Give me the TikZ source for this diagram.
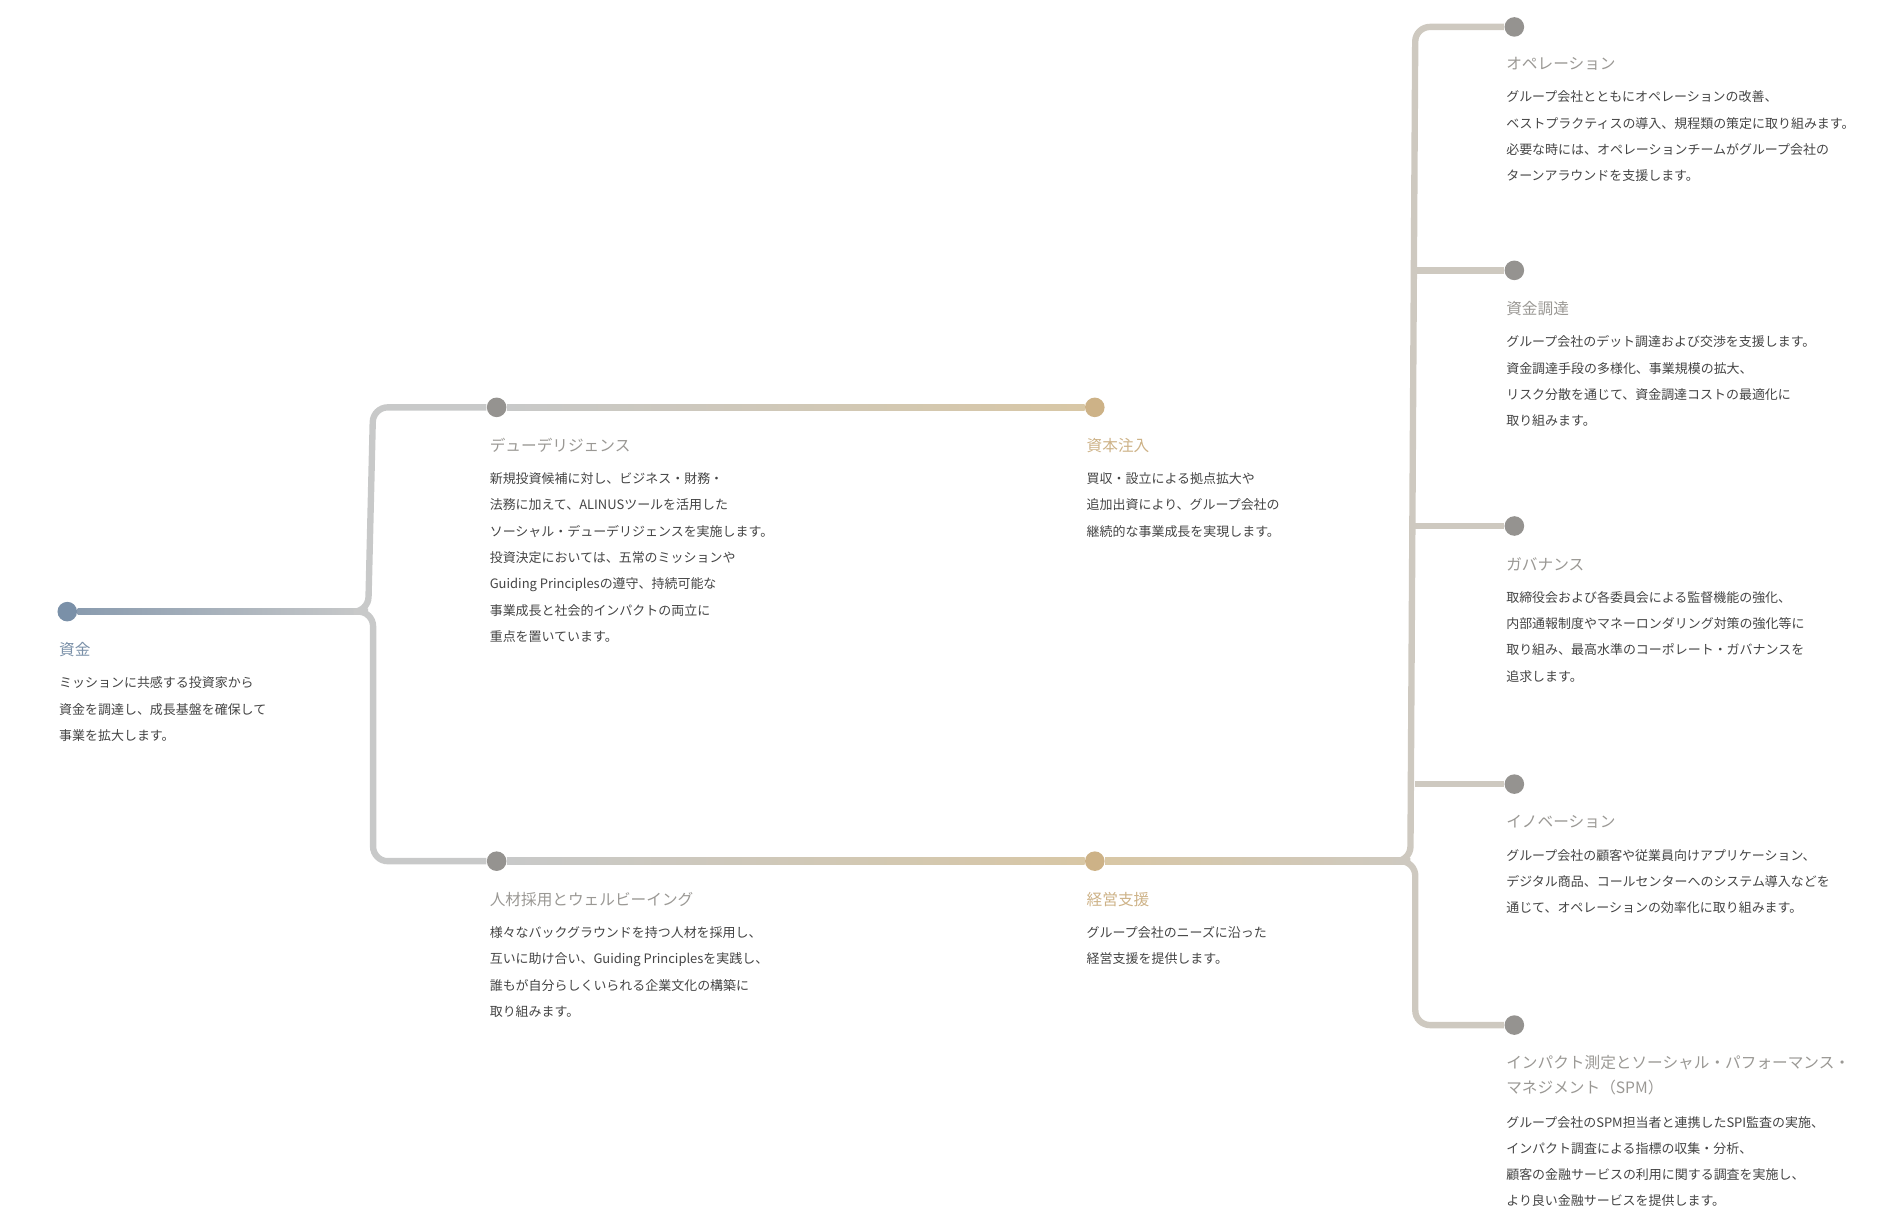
\documentclass[tikz,border=0pt]{standalone}
\usepackage{fontspec}
\usetikzlibrary{calc}
\newfontfamily\jp{Noto Sans CJK JP}
\begin{document}
\begin{tikzpicture}[x=0.5pt,y=-0.5pt]
\definecolor{dgray}{HTML}{959390}
\definecolor{dblue}{HTML}{7A90A8}
\definecolor{dgold}{HTML}{CDB287}
\definecolor{lgray}{HTML}{C8C9C9}
\definecolor{lbeige}{HTML}{CEC9C0}
\definecolor{lgold}{HTML}{D8C7A5}
\definecolor{tgray}{HTML}{9A9894}
\definecolor{tbody}{HTML}{444444}
\tikzset{
 dot/.style={circle,fill=#1,minimum size=8pt,inner sep=0pt},
 ttl/.style={anchor=west,inner sep=0pt,text=#1,font=\jp\fontsize{6.4}{8}\selectfont},
 bdy/.style={anchor=north west,inner sep=0pt,align=left,text=tbody,font=\jp\fontsize{5.3}{10.75}\selectfont},
 ln/.style={line width=2.6pt,rounded corners=6pt,#1},
}
\useasboundingbox (0,0) rectangle (1550,1003);
% nodes
\node[dot=dblue] (f) at (55,500) {};
\node[dot=dgray] (dd) at (406,333) {};
\node[dot=dgray] (hr) at (406,704) {};
\node[dot=dgold] (ci) at (895,333) {};
\node[dot=dgold] (ms) at (895,704) {};
\node[dot=dgray] (r1) at (1238,22) {};
\node[dot=dgray] (r2) at (1238,221) {};
\node[dot=dgray] (r3) at (1238,430) {};
\node[dot=dgray] (r4) at (1238,641) {};
\node[dot=dgray] (r5) at (1238,838) {};
\coordinate (b1) at (305,500);
\coordinate (b2) at (1157,704);
% connectors
\shade[left color=dblue!80!lgray,right color=lgray] ($(f.east)+(0,-2.6)$) rectangle ($(b1)+(-6,2.6)$);
\draw[ln=lgray] ($(b1)+(-8,0)$) -- ($(b1)+(-4,0)$) -- (b1|-dd) -- (dd.west);
\draw[ln=lgray] ($(b1)+(-4,0)$) -- (b1) -- (b1|-hr) -- (hr.west);
\shade[left color=lgray,right color=lgold] ($(dd.east)+(0,-2.6)$) rectangle ($(ci.west)+(0,2.6)$);
\shade[left color=lgray,right color=lgold] ($(hr.east)+(0,-2.6)$) rectangle ($(ms.west)+(0,2.6)$);
\shade[left color=lgold,right color=lbeige] ($(ms.east)+(0,-2.6)$) rectangle ($(b2)+(-6,2.6)$);
\draw[ln=lbeige] ($(b2)+(-8,0)$) -- ($(b2)+(-4,0)$) -- (b2|-r1) -- (r1.west);
\draw[ln=lbeige] ($(b2)+(-4,0)$) -- (b2) -- (b2|-r5) -- (r5.west);
\foreach \n in {r2,r3,r4} \draw[ln=lbeige] (b2|-\n) -- (\n.west);
% texts
\node[ttl=dblue] (tf) at (48,531) {資金};
\node[bdy] (bf) at (48,553) {ミッションに共感する投資家から\\資金を調達し、成長基盤を確保して\\事業を拡大します。};
\node[ttl=tgray] (tdd) at (400,364) {デューデリジェンス};
\node[bdy] (bdd) at (400,386) {新規投資候補に対し、ビジネス・財務・\\法務に加えて、ALINUSツールを活用した\\ソーシャル・デューデリジェンスを実施します。\\投資決定においては、五常のミッションや\\Guiding Principlesの遵守、持続可能な\\事業成長と社会的インパクトの両立に\\重点を置いています。};
\node[ttl=tgray] (thr) at (400,735) {人材採用とウェルビーイング};
\node[bdy] (bhr) at (400,757) {様々なバックグラウンドを持つ人材を採用し、\\互いに助け合い、Guiding Principlesを実践し、\\誰もが自分らしくいられる企業文化の構築に\\取り組みます。};
\node[ttl=dgold] (tci) at (888,364) {資本注入};
\node[bdy] (bci) at (888,386) {買収・設立による拠点拡大や\\追加出資により、グループ会社の\\継続的な事業成長を実現します。};
\node[ttl=dgold] (tms) at (888,735) {経営支援};
\node[bdy] (bms) at (888,757) {グループ会社のニーズに沿った\\経営支援を提供します。};
\node[ttl=tgray] (t1) at (1231,52) {オペレーション};
\node[bdy] (x1) at (1231,74) {グループ会社とともにオペレーションの改善、\\ベストプラクティスの導入、規程類の策定に取り組みます。\\必要な時には、オペレーションチームがグループ会社の\\ターンアラウンドを支援します。};
\node[ttl=tgray] (t2) at (1231,252) {資金調達};
\node[bdy] (x2) at (1231,274) {グループ会社のデット調達および交渉を支援します。\\資金調達手段の多様化、事業規模の拡大、\\リスク分散を通じて、資金調達コストの最適化に\\取り組みます。};
\node[ttl=tgray] (t3) at (1231,461) {ガバナンス};
\node[bdy] (x3) at (1231,483) {取締役会および各委員会による監督機能の強化、\\内部通報制度やマネーロンダリング対策の強化等に\\取り組み、最高水準のコーポレート・ガバナンスを\\追求します。};
\node[ttl=tgray] (t4) at (1231,672) {イノベーション};
\node[bdy] (x4) at (1231,694) {グループ会社の顧客や従業員向けアプリケーション、\\デジタル商品、コールセンターへのシステム導入などを\\通じて、オペレーションの効率化に取り組みます。};
\node[ttl=tgray,anchor=north west,align=left,font=\jp\fontsize{6.4}{10.5}\selectfont] (t5) at (1231,862) {インパクト測定とソーシャル・パフォーマンス・\\マネジメント（SPM）};
\node[bdy] (x5) at (1231,912) {グループ会社のSPM担当者と連携したSPI監査の実施、\\インパクト調査による指標の収集・分析、\\顧客の金融サービスの利用に関する調査を実施し、\\より良い金融サービスを提供します。};
\end{tikzpicture}
\end{document}
